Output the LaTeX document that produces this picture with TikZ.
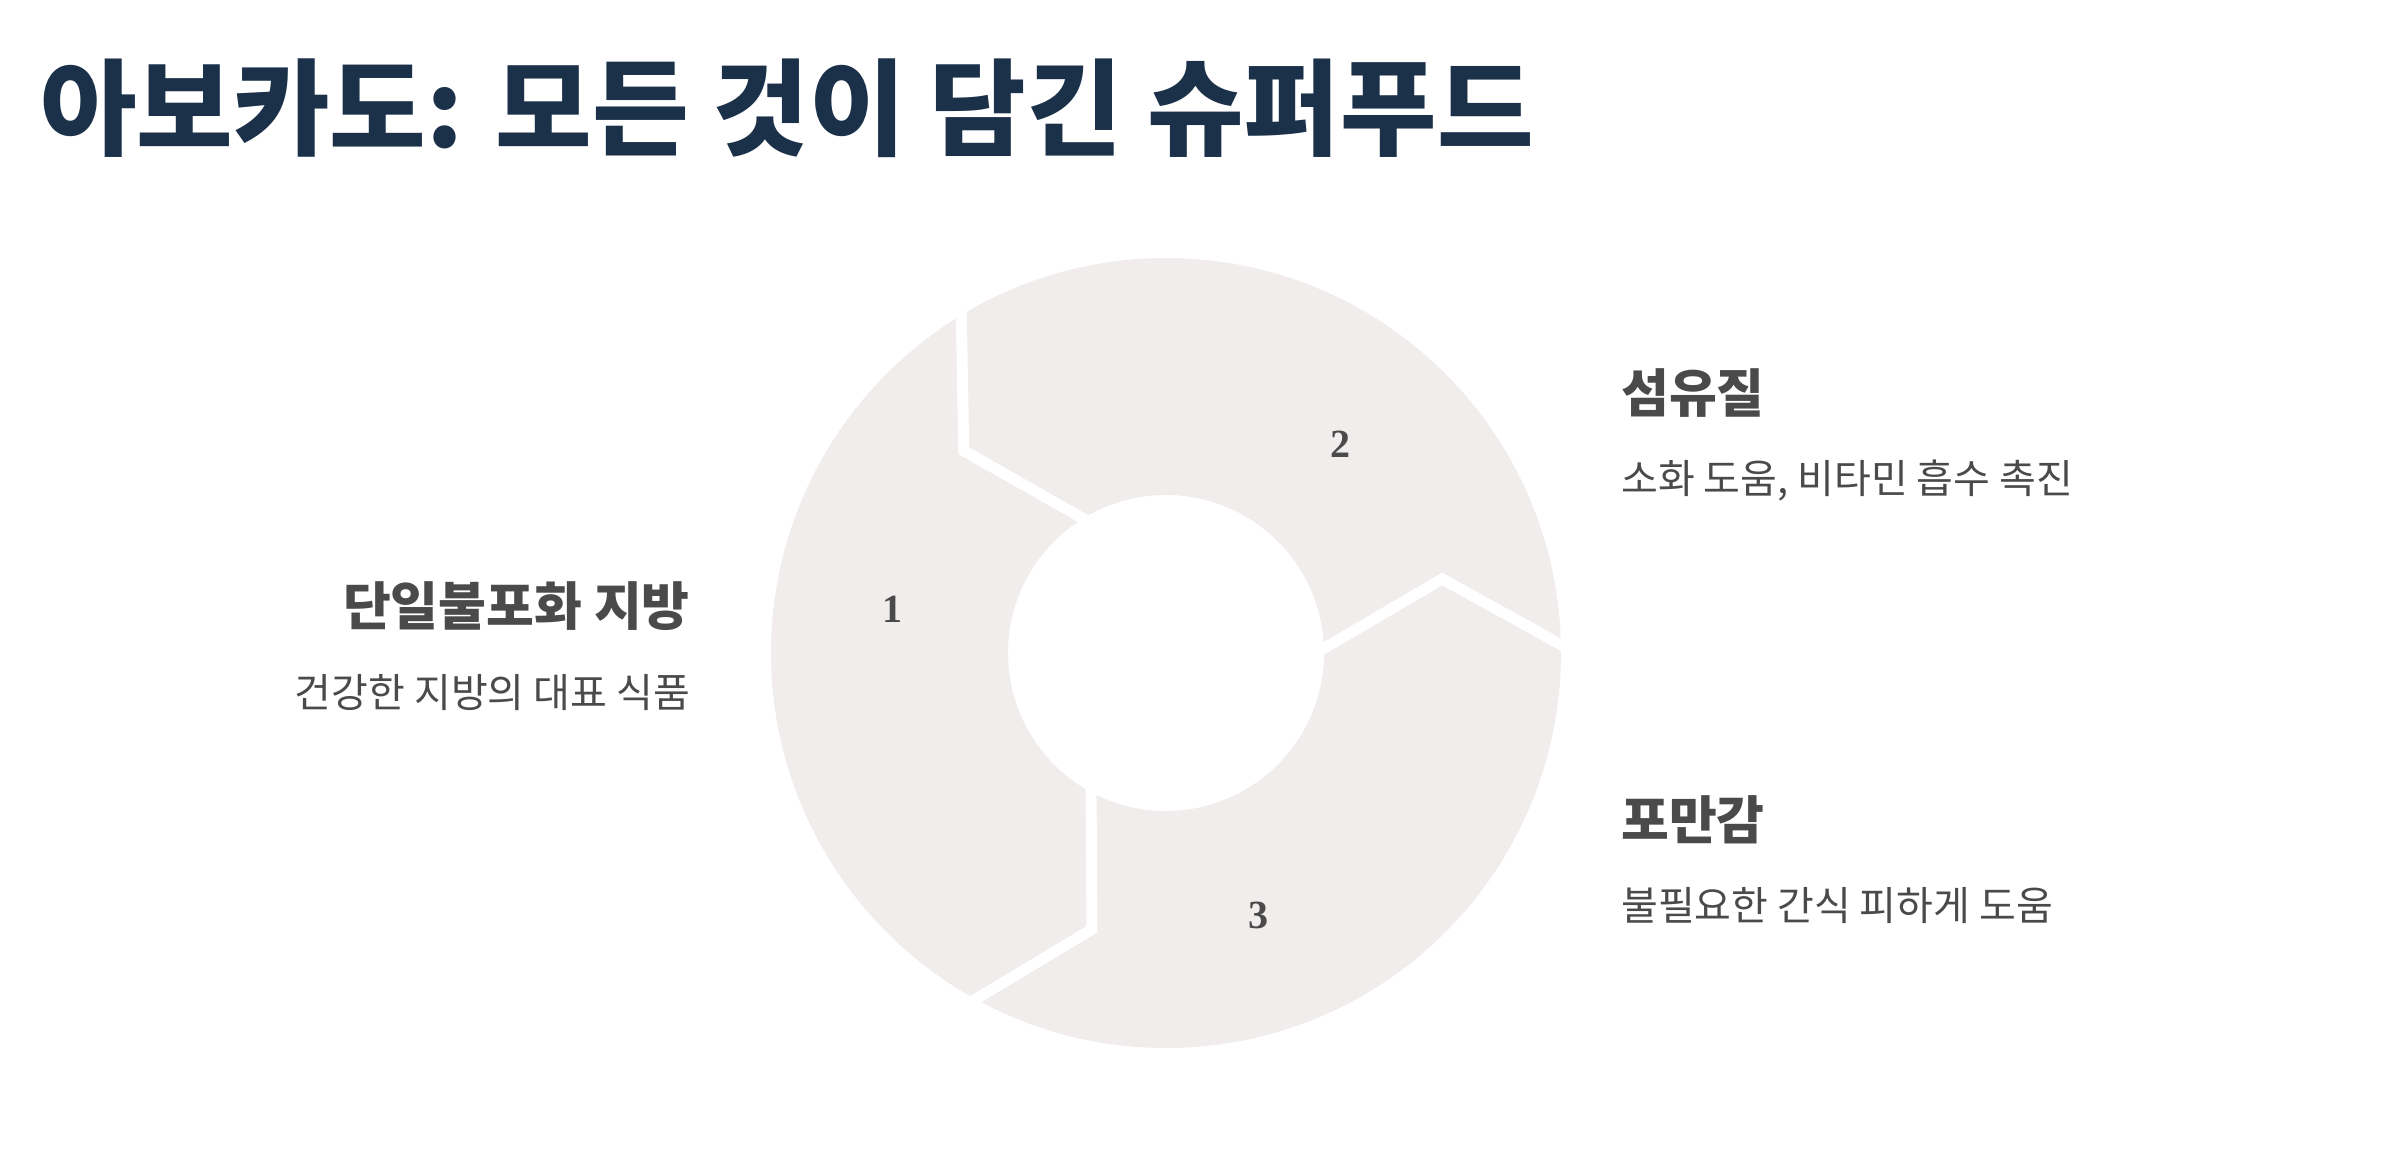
\documentclass[tikz,border=0pt]{standalone}
\usepackage{fontspec}
\usetikzlibrary{calc}
\newfontfamily\kr{Noto Sans CJK KR}
\setmainfont{Liberation Serif}
\definecolor{ringc}{HTML}{F0EDEC}
\definecolor{titlec}{HTML}{1B3049}
\definecolor{txtc}{HTML}{4A4A4A}
\begin{document}
\begin{tikzpicture}[x=1pt,y=-1pt,
  sep/.style={draw=white,line width=11pt,line join=miter},
  num/.style={font=\fontsize{40}{40}\selectfont\bfseries,text=txtc},
  head/.style={font=\kr\bfseries\fontsize{52}{60}\selectfont,text=txtc,inner sep=0},
  body/.style={font=\kr\fontsize{40}{48}\selectfont,text=txtc,inner sep=0}]
\useasboundingbox (0,0) rectangle (2399,1161);
\coordinate (c) at (1166,653);
\fill[ringc,even odd rule] (c) circle[radius=395] (c) circle[radius=158];
\foreach \a in {120,0,240}{
  \draw[sep] ($(c)+(\a:410)$) -- ($(c)+({\a-15}:286)$) -- ($(c)+(\a:150)$);
}
\node[num] (n1) at (892,609) {1};
\node[num] (n2) at (1340,444) {2};
\node[num] (n3) at (1258,915) {3};
\node[font=\kr\bfseries\fontsize{105}{110}\selectfont,text=titlec,anchor=west,inner sep=0] (t) at (40,108) {아보카도: 모든 것이 담긴 슈퍼푸드};
\node[head,anchor=east] (h1) at (690,606) {단일불포화 지방};
\node[body,anchor=east] (b1) at (690,693) {건강한 지방의 대표 식품};
\node[head,anchor=west] (h2) at (1621,393) {섬유질};
\node[body,anchor=west] (b2) at (1621,480) {소화 도움, 비타민 흡수 촉진};
\node[head,anchor=west] (h3) at (1621,820) {포만감};
\node[body,anchor=west] (b3) at (1621,906) {불필요한 간식 피하게 도움};
\end{tikzpicture}
\end{document}
